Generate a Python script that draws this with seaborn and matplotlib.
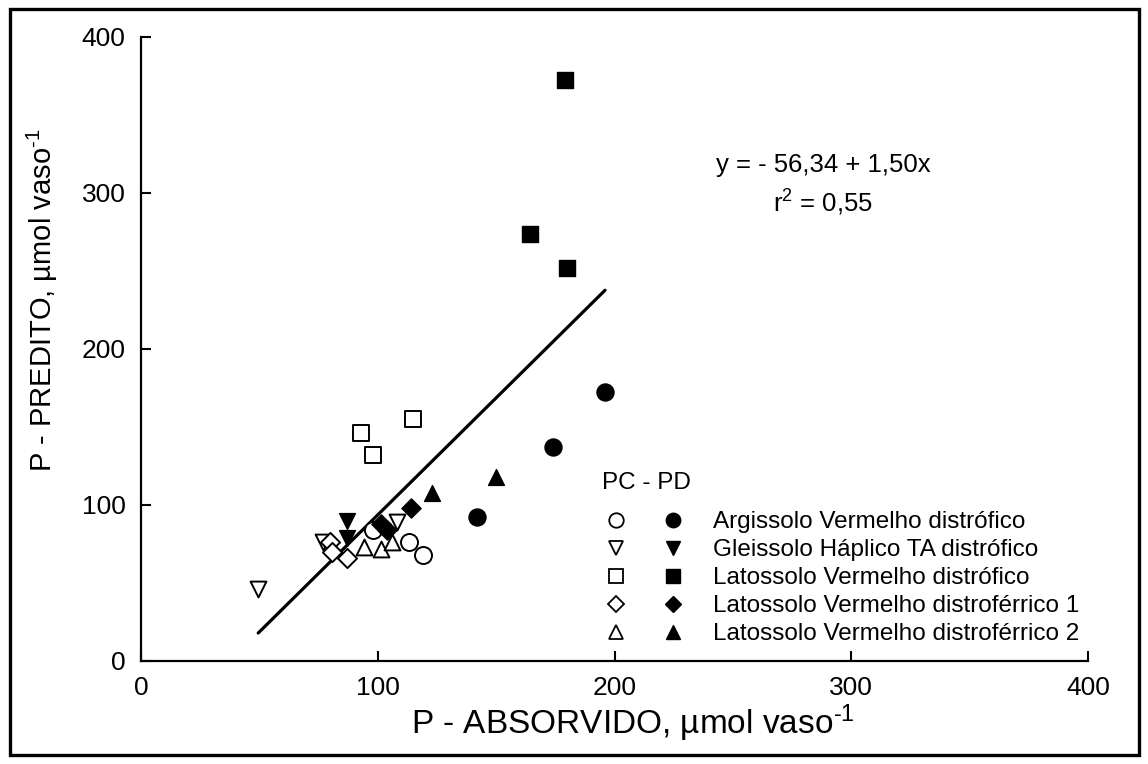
import numpy as np
import pandas as pd
import seaborn as sns
import matplotlib
matplotlib.use("Agg")
import matplotlib.pyplot as plt
from matplotlib.lines import Line2D
from matplotlib.legend_handler import HandlerTuple
from matplotlib.patches import Rectangle

# Soil classes and their marker shapes
soils = [
    "Argissolo Vermelho distrófico",
    "Gleissolo Háplico TA distrófico",
    "Latossolo Vermelho distrófico",
    "Latossolo Vermelho distroférrico 1",
    "Latossolo Vermelho distroférrico 2",
]
soil_markers = ["o", "v", "s", "D", "^"]
marker_sizes = [150, 130, 125, 95, 130]

# P absorbed (x) and P predicted (y), µmol vaso-1 — conventional tillage (PC)
pc_arg_x = [98, 113, 119]
pc_arg_y = [84, 76, 68]
pc_gle_x = [49.5, 77, 108]
pc_gle_y = [46, 76, 89]
pc_lvd_x = [93, 98, 115]
pc_lvd_y = [146, 132, 155]
pc_lvdf1_x = [80, 80.5, 87]
pc_lvdf1_y = [76, 70, 66]
pc_lvdf2_x = [94, 101.5, 106]
pc_lvdf2_y = [73, 72, 76]

# No-tillage (PD)
pd_arg_x = [142, 174, 196]
pd_arg_y = [92.5, 137.5, 172.5]
pd_gle_x = [87, 87]
pd_gle_y = [90, 79]
pd_lvd_x = [164.5, 179, 180]
pd_lvd_y = [273.5, 372.5, 252]
pd_lvdf1_x = [101.5, 104, 114]
pd_lvdf1_y = [88, 84, 98]
pd_lvdf2_x = [123, 150]
pd_lvdf2_y = [107.5, 118]

# Fitted regression
intercept = -56.34
slope = 1.50
r2 = 0.55

ticks = [0, 100, 200, 300, 400]

pc_sets = [(pc_arg_x, pc_arg_y), (pc_gle_x, pc_gle_y), (pc_lvd_x, pc_lvd_y),
           (pc_lvdf1_x, pc_lvdf1_y), (pc_lvdf2_x, pc_lvdf2_y)]
pd_sets = [(pd_arg_x, pd_arg_y), (pd_gle_x, pd_gle_y), (pd_lvd_x, pd_lvd_y),
           (pd_lvdf1_x, pd_lvdf1_y), (pd_lvdf2_x, pd_lvdf2_y)]

rows = []
for sistema, sets in (("PC", pc_sets), ("PD", pd_sets)):
    for soil, (xs, ys) in zip(soils, sets):
        for xv, yv in zip(xs, ys):
            rows.append({"solo": soil, "sistema": sistema, "absorvido": xv, "predito": yv})
df = pd.DataFrame(rows)

sns.set_theme(style="white")
plt.rcParams["font.family"] = ["Liberation Sans", "DejaVu Sans"]
plt.rcParams["mathtext.fontset"] = "custom"
plt.rcParams["mathtext.rm"] = "Liberation Sans"
plt.rcParams["mathtext.it"] = "Liberation Sans:italic"
plt.rcParams["mathtext.default"] = "regular"

W, H = 1148, 764
fig = plt.figure(figsize=(W / 100, H / 100), dpi=100)
ax = fig.add_axes([141 / W, 1 - 661 / H, (1088 - 141) / W, (661 - 37) / H])

# Regression line over the range of the observations
xline = np.array([df["absorvido"].min(), df["absorvido"].max()])
sns.lineplot(x=xline, y=intercept + slope * xline, ax=ax, color="black",
             linewidth=2.3, zorder=2)

for soil, mk, ms in zip(soils, soil_markers, marker_sizes):
    sub_pc = df[(df["solo"] == soil) & (df["sistema"] == "PC")]
    sns.scatterplot(data=sub_pc, x="absorvido", y="predito", ax=ax, marker=mk,
                    s=ms, facecolor="white", edgecolor="black", linewidth=1.4,
                    zorder=3, legend=False)
    sub_pd = df[(df["solo"] == soil) & (df["sistema"] == "PD")]
    sns.scatterplot(data=sub_pd, x="absorvido", y="predito", ax=ax, marker=mk,
                    s=ms, color="black", edgecolor="black", linewidth=1.0,
                    zorder=3, legend=False)

ax.set_xlim(0, 400)
ax.set_ylim(0, 400)
ax.set_xticks(ticks)
ax.set_yticks(ticks)
ax.set_xticklabels([str(t) for t in ticks])
ax.set_yticklabels([str(t) for t in ticks])
ax.tick_params(axis="both", direction="in", length=7, width=1.5,
               labelsize=19, color="black", labelcolor="black",
               bottom=True, left=True, top=False, right=False)
ax.tick_params(axis="x", pad=11)
ax.tick_params(axis="y", pad=11)
for side in ("top", "right"):
    ax.spines[side].set_visible(False)
for side in ("left", "bottom"):
    ax.spines[side].set_color("black")
    ax.spines[side].set_linewidth(1.6)
ax.set_facecolor("white")
ax.grid(False)

sup = "$^{\u2010" + "1}$"
ax.set_xlabel("P - ABSORVIDO, µmol vaso" + sup, fontsize=24, color="black")
ax.set_ylabel("P - PREDITO, µmol vaso" + sup, fontsize=21, color="black")
ax.xaxis.set_label_coords((633 - 141) / 947, (661 - 703) / 624)
ax.yaxis.set_label_coords((60 - 141) / 947, (661 - 300) / 624)

# Equation of the fit
eq = f"y = - {abs(intercept):.2f} + {slope:.2f}x".replace(".", ",")
ax.text((823 - 141) / 947, (661 - 165) / 624, eq, transform=ax.transAxes,
        ha="center", va="center", fontsize=18.5, color="black")
ax.text((823 - 141) / 947, (661 - 203) / 624,
        "r$^{2}$ = " + f"{r2:.2f}".replace(".", ","), transform=ax.transAxes,
        ha="center", va="center", fontsize=18.5, color="black")

# Legend: open (PC) and filled (PD) marker pairs per soil
handles = []
for mk, ms in zip(soil_markers, marker_sizes):
    msz = np.sqrt(ms) * 0.85
    h_open = Line2D([], [], linestyle="none", marker=mk, markersize=msz,
                    markerfacecolor="white", markeredgecolor="black",
                    markeredgewidth=1.3)
    h_fill = Line2D([], [], linestyle="none", marker=mk, markersize=msz,
                    markerfacecolor="black", markeredgecolor="black")
    handles.append((h_open, h_fill))

fs_leg = 17.5
fs_px = fs_leg * 100 / 72
leg = ax.legend(handles, soils, handler_map={tuple: HandlerTuple(ndivide=None, pad=41 / fs_px)},
                loc="upper left", bbox_to_anchor=(608 / W, 1 - 511 / H),
                bbox_transform=fig.transFigure, frameon=False, fontsize=fs_leg,
                handlelength=73 / fs_px, handletextpad=32 / fs_px,
                labelspacing=0.25, borderpad=0, borderaxespad=0)
for t in leg.get_texts():
    t.set_color("black")
fig.text(602 / W, 1 - 483 / H, "PC - PD", ha="left", va="center",
         fontsize=fs_leg, color="black")

# Outer frame
fig.patches.append(Rectangle((9.5 / W, 9.5 / H), (1139 - 9.5) / W, (755 - 9.5) / H,
                             transform=fig.transFigure, fill=False,
                             edgecolor="black", linewidth=2.4, zorder=10))

fig.savefig("out.png", dpi=100, facecolor="white")
